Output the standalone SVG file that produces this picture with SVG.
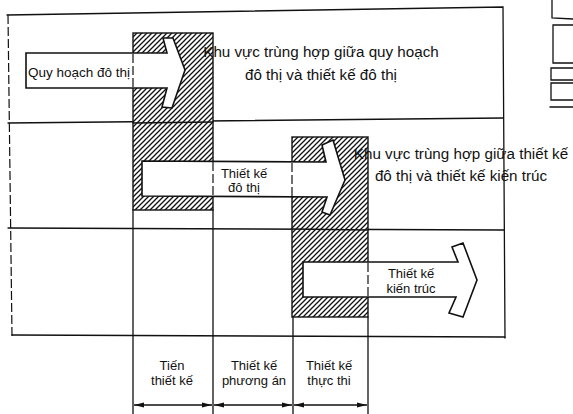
<svg xmlns="http://www.w3.org/2000/svg" width="573" height="414" viewBox="0 0 573 414">
<style>
.ln{fill:none;stroke:#111;stroke-width:1.3;stroke-linecap:round}
.dash{fill:none;stroke:#111;stroke-width:1.2;stroke-dasharray:9 3}
.hatch{fill:url(#hatch);stroke:#111;stroke-width:1.4}
.arrow{fill:#fff;stroke:#111;stroke-width:1.6;stroke-linejoin:miter}
.t{font-family:"Liberation Sans",Arial,sans-serif;fill:#111}
.big{font-size:15.2px}
.mid{font-size:13.5px}
.sm{font-size:13px}
.dim{fill:none;stroke:#111;stroke-width:1.3;marker-start:url(#ah);marker-end:url(#ah)}
</style>
<defs>
<pattern id="hatch" patternUnits="userSpaceOnUse" width="5" height="5">
<rect width="5" height="5" fill="#fff"/>
<path d="M-1,1 L1,-1 M0,5 L5,0 M4,6 L6,4" stroke="#111" stroke-width="1.3"/>
</pattern>
<marker id="ah" viewBox="0 0 10 6" refX="10" refY="3" markerWidth="10" markerHeight="6" markerUnits="userSpaceOnUse" orient="auto-start-reverse">
<path d="M0,0.6 L10,3 L0,5.4 z" fill="#111"/>
</marker>
</defs>
<rect width="573" height="414" fill="#fff"/>

<g id="grid">
<path class="ln" d="M7,15 L503,7 L505,338"/>
<path class="dash" d="M8,15 L12,336"/>
<path class="ln" d="M8,123 L503,118"/>
<path class="ln" d="M8,228 L504,230"/>
<path class="ln" d="M12,335 L505,337"/>
<path class="ln" d="M133,210 L133,414 M213,210 L213,414 M293,317 L293,414 M368,317 L368,414"/>
</g>

<g id="zone-1">
<rect class="hatch" x="133" y="33" width="80" height="177"/>
</g>
<g id="zone-2">
<rect class="hatch" x="292" y="137" width="76" height="180"/>
</g>
<path class="ln" d="M133,123 L213,122 M292,229 L368,230"/>

<g id="arrow-quy-hoach">
<polygon class="arrow" points="26,53 167,53 163,38 173,38 185,70 172,108 162,107 167,88 26,88"/>
<path class="dash" d="M133,54 L133,87"/>
<text class="t mid" x="28" y="77">Quy hoạch đô thị</text>
</g>

<g id="arrow-thiet-ke-do-thi">
<polygon class="arrow" points="142,161 326,162 322,145 333,140 345,180 330,215 322,212 327,197 142,196"/>
<path class="dash" d="M213,162 L213,196 M292,163 L292,196"/>
<text class="t sm" x="244" y="178" text-anchor="middle">Thiết kế</text>
<text class="t sm" x="244" y="192" text-anchor="middle">đô thị</text>
</g>

<g id="arrow-thiet-ke-kien-truc">
<polygon class="arrow" points="303,262 458,262 452,247 463,243 477,280 463,317 449,313 456,297 303,297"/>
<path class="dash" d="M368,263 L368,297"/>
<text class="t sm" x="411" y="278" text-anchor="middle">Thiết kế</text>
<text class="t sm" x="411" y="293" text-anchor="middle">kiến trúc</text>
</g>

<g id="label-overlap-1">
<text class="t big" x="321" y="57" text-anchor="middle">Khu vực trùng hợp giữa quy hoạch</text>
<text class="t big" x="321" y="80" text-anchor="middle">đô thị và thiết kế đô thị</text>
</g>
<g id="label-overlap-2">
<text class="t big" x="461" y="159" text-anchor="middle">Khu vực trùng hợp giữa thiết kế</text>
<text class="t big" x="461" y="181" text-anchor="middle">đô thị và thiết kế kiến trúc</text>
</g>

<g id="phase-tien-thiet-ke">
<text class="t sm" x="172" y="370" text-anchor="middle">Tiến</text>
<text class="t sm" x="172" y="385" text-anchor="middle">thiết kế</text>
</g>
<g id="phase-phuong-an">
<text class="t sm" x="254" y="370" text-anchor="middle">Thiết kế</text>
<text class="t sm" x="254" y="385" text-anchor="middle">phương án</text>
</g>
<g id="phase-thuc-thi">
<text class="t sm" x="329" y="370" text-anchor="middle">Thiết kế</text>
<text class="t sm" x="329" y="385" text-anchor="middle">thực thi</text>
</g>

<g id="connectors">
<path class="dim" d="M134,405 L212,405" />
<path class="dim" d="M214,405 L292,405" />
<path class="dim" d="M294,405 L367,405" />
</g>

<g id="edge-fragment">
<path class="ln" d="M552,0 L552,18 L573,19 M573,25 L553,25 L553,63 L573,63 M573,68 L551,68 L551,80 L573,80 M573,83 L551,83 L551,100 L573,100 M550,107 L573,107"/>
</g>
</svg>
